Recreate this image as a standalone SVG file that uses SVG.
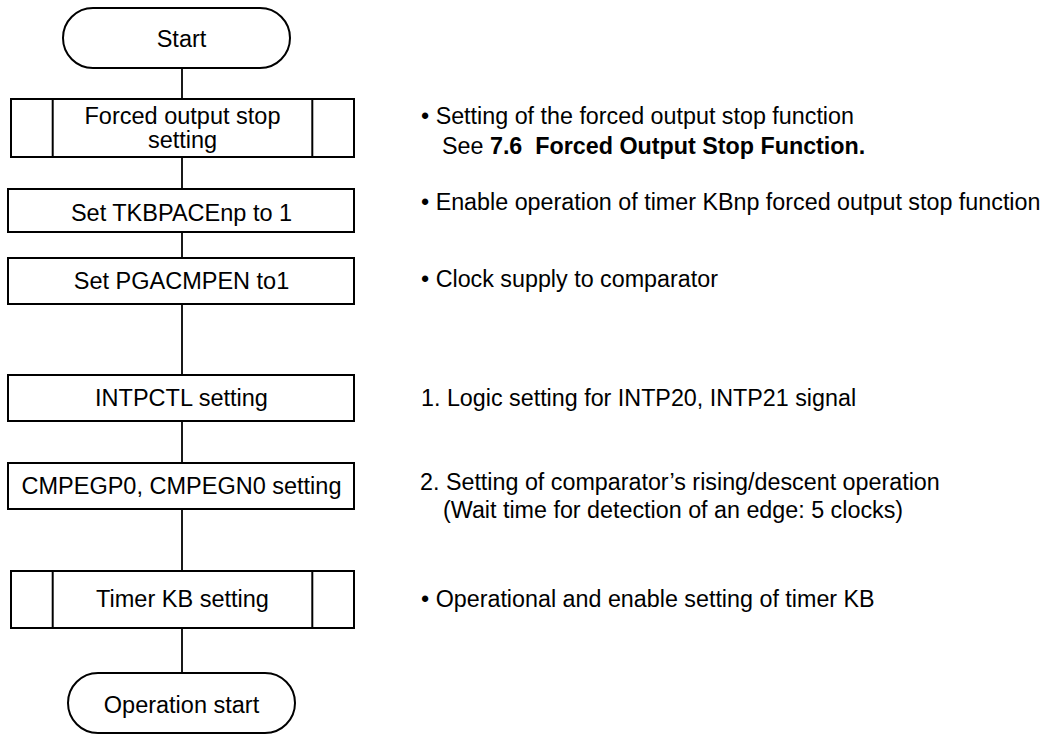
<svg xmlns="http://www.w3.org/2000/svg" width="1048" height="736" viewBox="0 0 1048 736">
<style>
.box{fill:#fff;stroke:#000;stroke-width:2}
.ln{stroke:#000;stroke-width:1.8;fill:none}
.t{font-family:"Liberation Sans",Arial,sans-serif;font-size:23.5px;fill:#000}
.n{font-size:23.3px}
.c{text-anchor:middle}
.b{font-weight:bold}
</style>
<rect width="1048" height="736" fill="#fff"/>
<g id="connectors">
<line class="ln" x1="182" y1="68" x2="182" y2="99"/>
<line class="ln" x1="182" y1="157" x2="182" y2="189"/>
<line class="ln" x1="182" y1="232" x2="182" y2="258"/>
<line class="ln" x1="182" y1="304" x2="182" y2="375"/>
<line class="ln" x1="182" y1="421" x2="182" y2="463"/>
<line class="ln" x1="182" y1="509" x2="182" y2="571"/>
<line class="ln" x1="182" y1="628" x2="182" y2="673"/>
</g>
<g id="start">
<rect class="box" x="63" y="8" width="227" height="60" rx="30" ry="30"/>
<text class="t c" x="181.5" y="47">Start</text>
</g>
<g id="forced-output-stop">
<rect class="box" x="11" y="99" width="343" height="58"/>
<line class="ln" x1="52.7" y1="99" x2="52.7" y2="157" style="stroke-width:2"/>
<line class="ln" x1="312.3" y1="99" x2="312.3" y2="157" style="stroke-width:2"/>
<text class="t c" x="182.5" y="124">Forced output stop</text>
<text class="t c" x="182.5" y="148">setting</text>
</g>
<g id="set-tkbpace">
<rect class="box" x="8" y="189" width="346" height="43"/>
<text class="t c" x="181.5" y="221">Set TKBPACEnp to 1</text>
</g>
<g id="set-pgacmpen">
<rect class="box" x="8" y="258" width="346" height="46"/>
<text class="t c" x="181.5" y="289">Set PGACMPEN to1</text>
</g>
<g id="intpctl">
<rect class="box" x="8" y="375" width="346" height="46"/>
<text class="t c" x="181.5" y="406">INTPCTL setting</text>
</g>
<g id="cmpeg">
<rect class="box" x="8" y="463" width="346" height="46"/>
<text class="t c" x="181.5" y="494">CMPEGP0, CMPEGN0 setting</text>
</g>
<g id="timer-kb">
<rect class="box" x="11" y="571" width="343" height="57"/>
<line class="ln" x1="52.7" y1="571" x2="52.7" y2="628" style="stroke-width:2"/>
<line class="ln" x1="312.3" y1="571" x2="312.3" y2="628" style="stroke-width:2"/>
<text class="t c" x="182.5" y="607">Timer KB setting</text>
</g>
<g id="operation-start">
<rect class="box" x="68" y="673" width="227" height="60" rx="30" ry="30"/>
<text class="t c" x="181.5" y="713">Operation start</text>
</g>
<g id="notes">
<text class="t n" x="421" y="124">• Setting of the forced output stop function</text>
<text class="t n" x="442" y="154" xml:space="preserve">See <tspan class="b">7.6  Forced Output Stop Function.</tspan></text>
<text class="t n" x="421" y="210">• Enable operation of timer KBnp forced output stop function</text>
<text class="t n" x="421" y="287">• Clock supply to comparator</text>
<text class="t n" x="421" y="406">1. Logic setting for INTP20, INTP21 signal</text>
<text class="t n" x="420" y="490">2. Setting of comparator’s rising/descent operation</text>
<text class="t n" x="443" y="518">(Wait time for detection of an edge: 5 clocks)</text>
<text class="t n" x="421" y="607">• Operational and enable setting of timer KB</text>
</g>
</svg>
